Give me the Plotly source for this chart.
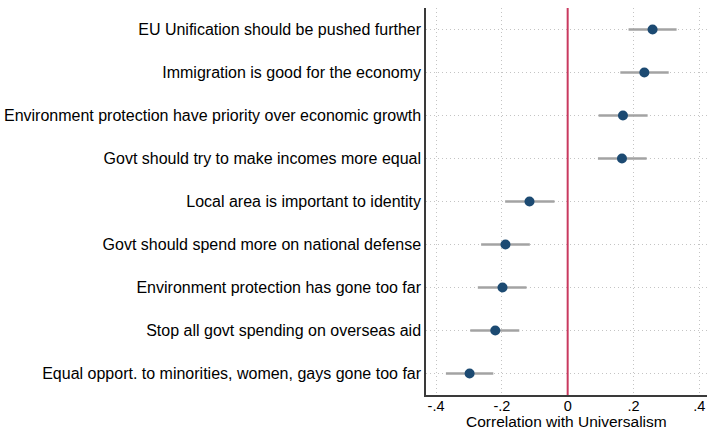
import plotly.graph_objects as go

# Survey items, top to bottom
items = [
    "EU Unification should be pushed further",
    "Immigration is good for the economy",
    "Environment protection have priority over economic growth",
    "Govt should try to make incomes more equal",
    "Local area is important to identity",
    "Govt should spend more on national defense",
    "Environment protection has gone too far",
    "Stop all govt spending on overseas aid",
    "Equal opport. to minorities, women, gays gone too far",
]

# Correlation estimates with 95% confidence bounds
estimate = [0.258, 0.233, 0.168, 0.165, -0.116, -0.189, -0.198, -0.220, -0.298]
ci_low = [0.185, 0.160, 0.094, 0.092, -0.190, -0.263, -0.273, -0.296, -0.370]
ci_high = [0.331, 0.307, 0.243, 0.240, -0.040, -0.115, -0.125, -0.147, -0.226]

x_ticks = [-0.4, -0.2, 0, 0.2, 0.4]
x_tick_labels = ["-.4", "-.2", "0", ".2", ".4"]
x_title = "Correlation with Universalism"

positions = list(range(1, len(items) + 1))
err_plus = [h - e for h, e in zip(ci_high, estimate)]
err_minus = [e - l for e, l in zip(estimate, ci_low)]

fig = go.Figure()

# Zero reference line
fig.add_shape(
    type="line", xref="x", yref="paper",
    x0=0, x1=0, y0=0, y1=1,
    line=dict(color="#c9395f", width=2),
    layer="above",
)

fig.add_trace(go.Scatter(
    x=estimate,
    y=positions,
    mode="markers",
    marker=dict(color="#1c4a72", size=10, line=dict(width=0)),
    error_x=dict(
        type="data", symmetric=False,
        array=err_plus, arrayminus=err_minus,
        color="#a3a3a3", thickness=2.5, width=0,
    ),
    showlegend=False,
))

font_family = "Liberation Sans, Arial, Helvetica, sans-serif"
grid_dash = "1px,3px"

# Axis title placed just under the tick labels
fig.add_annotation(
    text=x_title, xref="paper", yref="paper",
    x=0.5, y=0, xanchor="center", yanchor="top",
    yshift=-16, showarrow=False,
    font=dict(size=15.5),
)

fig.update_layout(
    width=707, height=430,
    margin=dict(l=426, r=0, t=8, b=35),
    paper_bgcolor="white",
    plot_bgcolor="white",
    font=dict(family=font_family, size=16, color="black"),
    xaxis=dict(
        range=[-0.4305, 0.4234],
        tickvals=x_ticks, ticktext=x_tick_labels,
        showgrid=True, gridcolor="#c4c4c4", griddash=grid_dash, gridwidth=1,
        zeroline=False,
        showline=True, linecolor="#3a3a3a", linewidth=1.5,
        ticks="", ticklen=0, ticklabelstandoff=-3,
        tickfont=dict(size=14.5),
    ),
    yaxis=dict(
        range=[9.5, 0.5],
        tickvals=positions, ticktext=items,
        showgrid=True, gridcolor="#c4c4c4", griddash=grid_dash, gridwidth=1,
        zeroline=False,
        showline=True, linecolor="#3a3a3a", linewidth=1.5,
        ticks="", ticklabelstandoff=0,
        tickfont=dict(size=16),
    ),
)

fig.write_html("out.html")
